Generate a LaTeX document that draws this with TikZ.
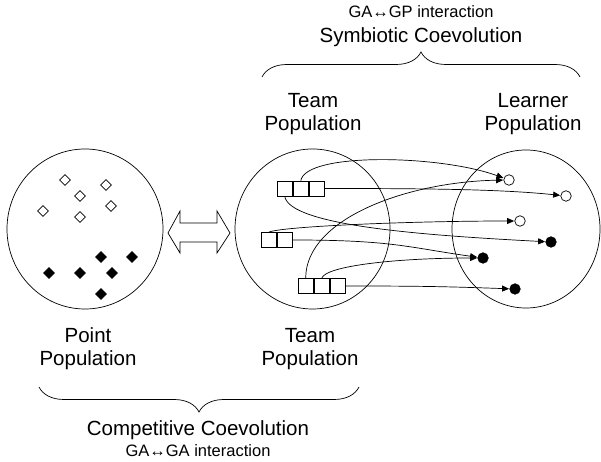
\documentclass[tikz,border=0pt]{standalone}
\usepackage{fontspec}
\setmainfont{Liberation Sans}
\usetikzlibrary{arrows.meta}
\usetikzlibrary{positioning}
\usetikzlibrary{shapes.geometric}
\usetikzlibrary{decorations.pathreplacing}

\begin{document}
\begin{tikzpicture}[x=1pt,y=1pt,line width=0.7pt,
  >={Triangle[length=7pt,width=6pt]},
  big/.style={font=\fontsize{20.5}{23}\selectfont,align=center},
  small/.style={font=\fontsize{16.5}{19}\selectfont},
  pop/.style={ellipse,draw,inner sep=0pt},
  cell/.style={rectangle,draw,inner sep=0pt,minimum width=15.4pt,minimum height=15pt},
  dot/.style={circle,draw,inner sep=0pt,minimum size=10.5pt},
  open dot/.style={dot,fill=white},
  full dot/.style={dot,fill=black},
  gem/.style={diamond,draw,inner sep=0pt,minimum size=11pt},
  open gem/.style={gem,fill=white},
  full gem/.style={gem,fill=black},
  link/.style={->,shorten >=0.3pt}]

  \useasboundingbox (0,0) rectangle (601,462);

  % the three populations
  \node[pop,minimum width=156pt,minimum height=160pt] (pointpop) at (85,233) {};
  \node[pop,minimum width=155pt,minimum height=160pt] (teampop) at (312.5,233) {};
  \node[pop,minimum width=148pt,minimum height=158pt] (learnpop) at (526,233) {};

  % points
  \node[open gem] (p1) at (65,282) {};
  \node[open gem] (p2) at (106,277) {};
  \node[open gem] (p3) at (80,266) {};
  \node[open gem] (p4) at (111,256) {};
  \node[open gem] (p5) at (43,251) {};
  \node[open gem] (p6) at (80,245) {};
  \node[full gem] (p7) at (101,205) {};
  \node[full gem] (p8) at (132,205) {};
  \node[full gem] (p9) at (49,189) {};
  \node[full gem] (p10) at (80,189) {};
  \node[full gem] (p11) at (112,189) {};
  \node[full gem] (p12) at (101,168) {};

  % competition between points and teams
  \draw (168,229) -- (180,251) -- (180,239) -- (217,239) -- (217,251) -- (230,229)
    -- (217,209) -- (217,220) -- (180,220) -- (180,209) -- cycle;

  % teams
  \node[cell] (t1a) at (284.7,273.5) {};
  \node[cell,right=0pt of t1a] (t1b) {};
  \node[cell,right=0pt of t1b] (t1c) {};
  \node[cell] (t2a) at (268.7,222) {};
  \node[cell,right=0pt of t2a] (t2b) {};
  \node[cell] (t3a) at (305.7,176) {};
  \node[cell,right=0pt of t3a] (t3b) {};
  \node[cell,right=0pt of t3b] (t3c) {};

  % learners
  \node[open dot] (o1) at (509,282) {};
  \node[open dot] (o2) at (566,266) {};
  \node[open dot] (o3) at (520,241) {};
  \node[full dot] (f1) at (551,220) {};
  \node[full dot] (f2) at (483,204) {};
  \node[full dot] (f3) at (515,173) {};

  \path[link]
    (t1b.north) edge[out=80,in=160,out distance=29pt,in distance=68pt] (o1)
    (t1c.east) edge[out=0,in=174,out distance=100pt,in distance=60pt] (o2)
    (t1a.south) edge[out=-80,in=177,out distance=30pt,in distance=120pt] (f1)
    (t2a.north) edge[out=22,in=180,out distance=16pt,in distance=100pt] (o3)
    (t2b.east) edge[out=0,in=172,out distance=100pt,in distance=70pt] (f2)
    (t3a.north) edge[out=90,in=181,out distance=60pt,in distance=95pt] (o1)
    (t3b.north) edge[out=72,in=180,out distance=13pt,in distance=80pt] (f2)
    (t3c.east) edge[out=0,in=178,out distance=80pt,in distance=60pt] (f3);

  % labels
  \node[big] (teamtop) at (313,348) {Team\\Population};
  \node[big] (learntop) at (533,348) {Learner\\Population};
  \node[big] (pointlbl) at (88,113) {Point\\Population};
  \node[big] (teambot) at (310,113) {Team\\Population};

  \node[big,anchor=base] (symb) at (421,419) {Symbiotic Coevolution};
  \node[small,anchor=base] (gagp) at (421,444) {GA↔GP interaction};
  \node[big,anchor=base] (comp) at (198,26) {Competitive Coevolution};
  \node[small,anchor=base] (gaga) at (198,5) {GA↔GA interaction};

  % braces
  \draw[decorate,decoration={brace,amplitude=25pt}] (262,385) -- (580,385);
  \draw[decorate,decoration={brace,amplitude=25pt}] (359,75) -- (39,75);
\end{tikzpicture}
\end{document}
